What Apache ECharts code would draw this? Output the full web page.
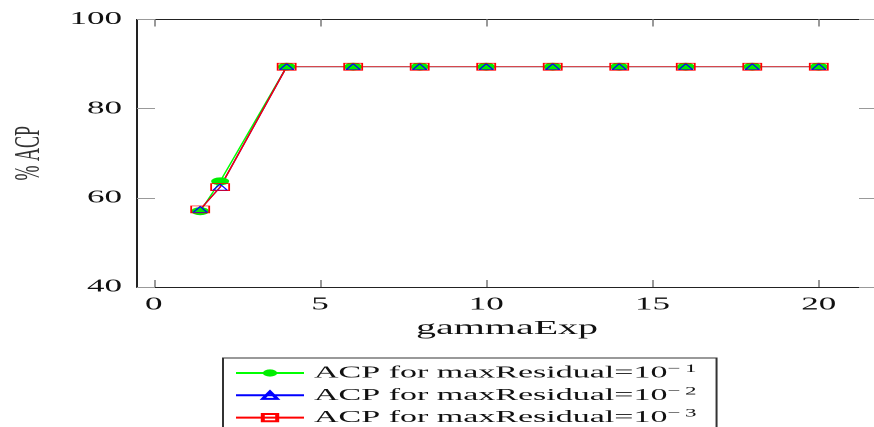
<!DOCTYPE html>
<html>
<head>
<meta charset="utf-8">
<script src="https://cdn.jsdelivr.net/npm/echarts@6/dist/echarts.min.js"></script>
<style>
  html, body { margin: 0; padding: 0; background: #fff; overflow: hidden; }
  #wrap { width: 874px; height: 427px; overflow: hidden; }
  /* the reference is a LaTeX plot stretched ~2x horizontally */
  #chart { width: 437px; height: 427px; transform: scaleX(2); transform-origin: 0 0; }
</style>
</head>
<body>
<div id="wrap"><div id="chart"></div></div>
<script>
const gammaExp = [1.4, 2, 4, 6, 8, 10, 12, 14, 16, 18, 20];
const acpRes1 = [57.0, 63.7, 89.4, 89.4, 89.4, 89.4, 89.4, 89.4, 89.4, 89.4, 89.4];
const acpRes2 = [57.4, 62.4, 89.4, 89.4, 89.4, 89.4, 89.4, 89.4, 89.4, 89.4, 89.4];
const acpRes3 = [57.4, 62.4, 89.4, 89.4, 89.4, 89.4, 89.4, 89.4, 89.4, 89.4, 89.4];
const xTicks = [0, 5, 10, 15, 20];
const yTicks = [40, 60, 80, 100];
const seriesNames = ["ACP for maxResidual=10−1", "ACP for maxResidual=10−2", "ACP for maxResidual=10−3"];
const legendBase = "ACP for maxResidual=10";
const exponents = ["−\u20091", "−\u20092", "−\u20093"];

const FONT = "'Liberation Serif', 'DejaVu Serif', serif";
const pairs = (ys) => gammaExp.map((x, i) => [x, ys[i]]);

const chart = echarts.init(document.getElementById("chart"), null, { renderer: "canvas", devicePixelRatio: 2 });

const frame = { show: true, onZero: false, lineStyle: { color: "#222", width: 1 } };

chart.setOption({
  animation: false,
  backgroundColor: "#fff",
  grid: { left: 68.5, right: -1.5, top: 19.5, bottom: 140, containLabel: false, outerBoundsMode: "none" },
  legend: {
    orient: "vertical",
    left: 111.5,
    top: 358,
    height: 120,
    padding: [5, 10, 6, 5.5],
    itemWidth: 34,
    itemHeight: 9,
    itemGap: 2.3,
    borderColor: "#333",
    borderWidth: 1,
    borderRadius: 0,
    data: seriesNames,
    formatter: (name) => {
      const i = seriesNames.indexOf(name);
      return legendBase + "{sup|" + exponents[i] + "}";
    },
    textStyle: {
      fontFamily: FONT, fontSize: 17, color: "#111", lineHeight: 20,
      rich: { sup: { fontFamily: FONT, fontSize: 11.5, color: "#111", lineHeight: 12, verticalAlign: "top" } }
    }
  },
  xAxis: [
    {
      type: "value", min: -0.5, max: 21.75, position: "bottom",
      name: "gammaExp", nameLocation: "middle", nameGap: 31,
      nameTextStyle: { fontFamily: FONT, fontSize: 20, color: "#111" },
      axisLine: frame,
      axisTick: { show: true, inside: true, length: 7, customValues: xTicks, lineStyle: { color: "#999", width: 1 } },
      axisLabel: { show: true, margin: 9, customValues: xTicks, fontFamily: FONT, fontSize: 17.5, color: "#111" },
      splitLine: { show: false }
    },
    {
      type: "value", min: -0.5, max: 21.75, position: "top",
      axisLine: frame,
      axisTick: { show: true, inside: true, length: 7, customValues: xTicks, lineStyle: { color: "#999", width: 1 } },
      axisLabel: { show: false },
      splitLine: { show: false }
    }
  ],
  yAxis: [
    {
      type: "value", min: 40, max: 100, interval: 20, position: "left",
      name: "% ACP", nameLocation: "middle", nameGap: 44,
      nameTextStyle: { fontFamily: FONT, fontSize: 18, color: "#333" },
      axisLine: frame,
      axisTick: { show: true, inside: true, length: 9, customValues: yTicks, lineStyle: { color: "#999", width: 1 } },
      axisLabel: { show: true, margin: 7.5, customValues: yTicks, fontFamily: FONT, fontSize: 17.5, color: "#111" },
      splitLine: { show: false }
    },
    {
      type: "value", min: 40, max: 100, interval: 20, position: "right",
      axisLine: frame,
      axisTick: { show: true, inside: true, length: 9, customValues: yTicks, lineStyle: { color: "#999", width: 1 } },
      axisLabel: { show: false },
      splitLine: { show: false }
    }
  ],
  series: [
    {
      name: seriesNames[0], type: "line", data: pairs(acpRes1),
      symbol: "circle", symbolSize: [9, 8],
      lineStyle: { color: "#00ff00", width: 0.8 },
      itemStyle: { color: "#00ee00" }
    },
    {
      name: seriesNames[1], type: "line", data: pairs(acpRes2),
      symbol: "triangle", symbolSize: [7, 6],
      lineStyle: { color: "#0000ff", width: 0.8 },
      itemStyle: { color: "transparent", borderColor: "#0000ff", borderWidth: 0.8 }
    },
    {
      name: seriesNames[2], type: "line", data: pairs(acpRes3),
      symbol: "rect", symbolSize: [9, 7],
      lineStyle: { color: "#ff0000", width: 0.8 },
      itemStyle: { color: "transparent", borderColor: "#ff0000", borderWidth: 0.8 }
    }
  ]
});
</script>
</body>
</html>
